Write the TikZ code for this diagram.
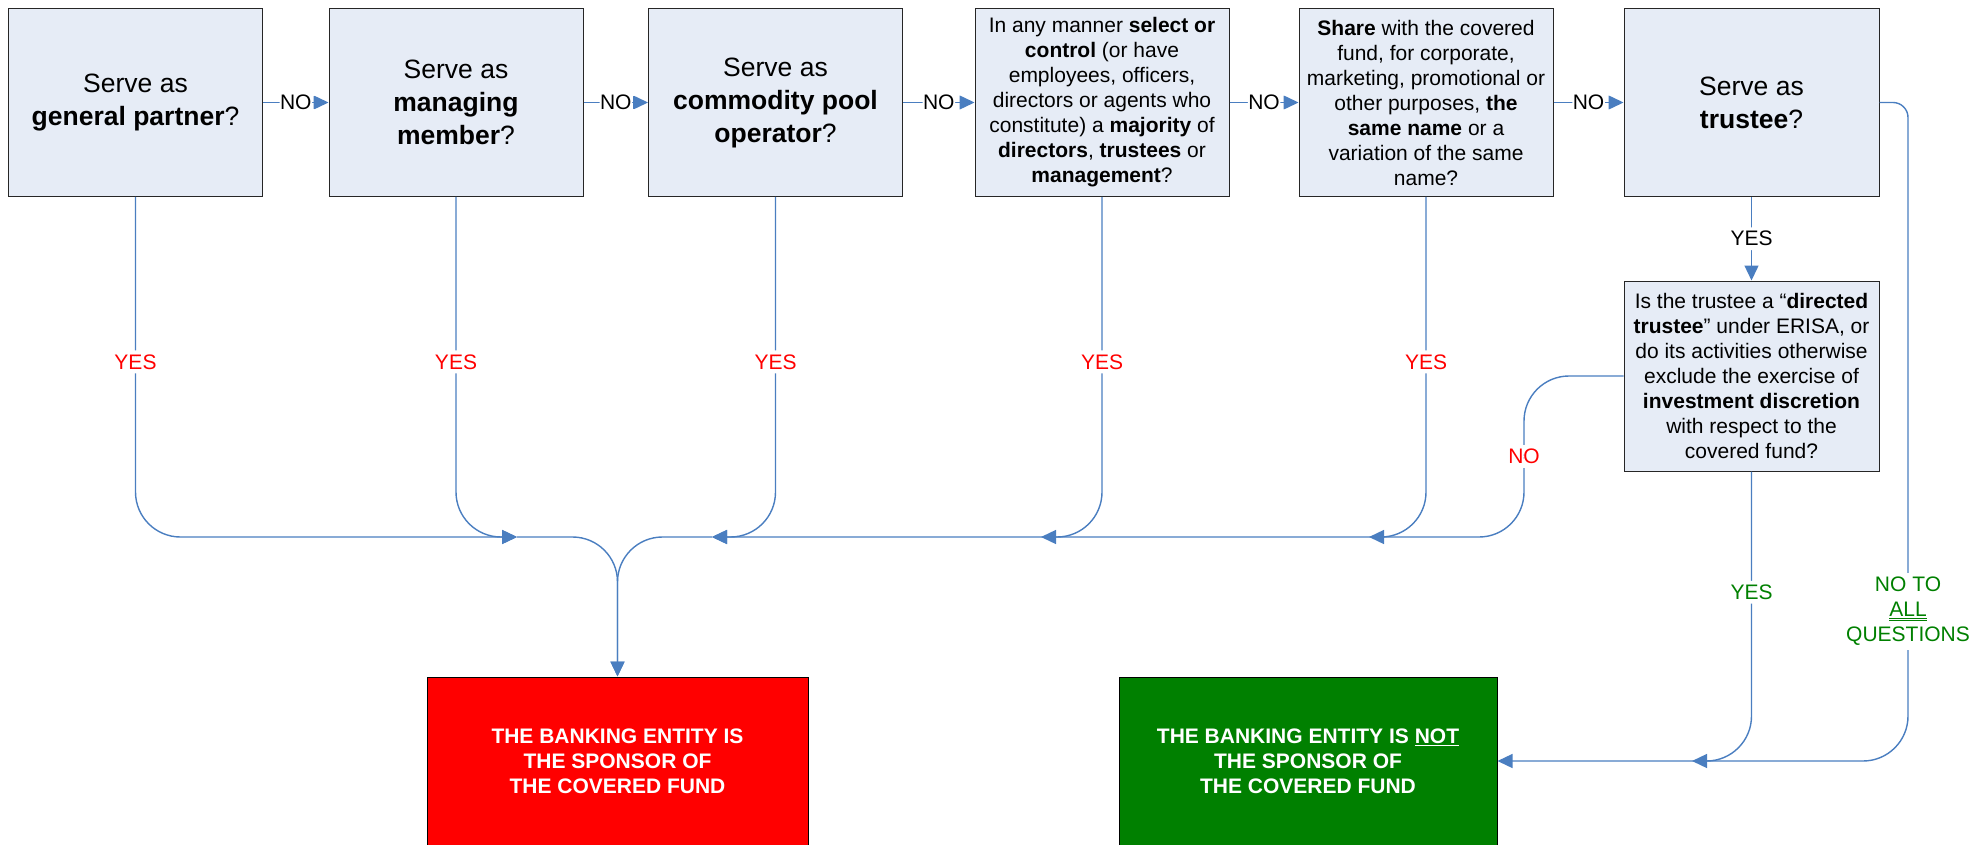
\documentclass[tikz,border=0pt]{standalone}
\usepackage{fontspec}
\setmainfont{Liberation Sans}
\usetikzlibrary{arrows.meta}
\definecolor{boxfill}{RGB}{230,236,246}
\definecolor{linkblue}{RGB}{74,126,192}
\definecolor{redbox}{RGB}{255,0,0}
\definecolor{greenbox}{RGB}{0,128,0}
\definecolor{yesgreen}{RGB}{0,128,0}
\begin{document}
\begin{tikzpicture}[x=1pt,y=-1pt,
  qbox/.style={draw=black!85, line width=1pt, fill=boxfill, align=center, inner sep=2pt},
  bigq/.style={qbox, minimum width=254pt, minimum height=188pt, font=\fontsize{26.5}{33}\selectfont},
  smallq/.style={qbox, minimum width=254pt, minimum height=188pt, font=\fontsize{21}{25}\selectfont},
  endbox/.style={draw=black, line width=1pt, align=center, text=white, font=\bfseries\fontsize{21}{25}\selectfont, minimum height=168pt},
  conn/.style={draw=linkblue, line width=1.4pt, rounded corners=45pt},
  arr/.style={-{Triangle[length=15pt,width=14pt]}},
  nolab/.style={fill=white, inner sep=0.5pt, text=black, font=\fontsize{21}{25}\selectfont},
  vlab/.style={fill=white, inner xsep=1pt, inner ysep=4pt, font=\fontsize{21}{25}\selectfont},
]
\useasboundingbox (0,0) rectangle (1983,845);

% question boxes
\node[bigq] (b1) at (135.5,102.5) {Serve as\\\textbf{general partner}?};
\node[bigq] (b2) at (456,102.5) {Serve as\\\textbf{managing}\\\textbf{member}?};
\node[bigq] (b3) at (775.5,102.5) {Serve as\\\textbf{commodity pool}\\\textbf{operator}?};
\node[smallq] (b4) at (1102,102.5) {In any manner \textbf{select or}\\\textbf{control} (or have\\employees, officers,\\directors or agents who\\constitute) a \textbf{majority} of\\\textbf{directors}, \textbf{trustees} or\\\textbf{management}?};
\node[smallq] (b5) at (1426,102.5) {\textbf{Share} with the covered\\fund, for corporate,\\marketing, promotional or\\other purposes, \textbf{the}\\\textbf{same name} or a\\variation of the same\\name?};
\node[bigq, minimum width=255pt] (b6) at (1751.5,102.5) {Serve as\\\textbf{trustee}?};
\node[smallq, minimum width=255pt, minimum height=190pt] (b7) at (1751.5,376) {Is the trustee a “\textbf{directed}\\\textbf{trustee}” under ERISA, or\\do its activities otherwise\\exclude the exercise of\\\textbf{investment discretion}\\with respect to the\\covered fund?};

% outcome boxes
\node[endbox, fill=redbox, minimum width=381pt] (red) at (617.5,761) {THE BANKING ENTITY IS\\THE SPONSOR OF\\THE COVERED FUND};
\node[endbox, fill=greenbox, minimum width=378pt] (green) at (1308,761) {THE BANKING ENTITY IS \underline{NOT}\\THE SPONSOR OF\\THE COVERED FUND};

% junction points
\coordinate (mL) at (517,537);
\coordinate (mR) at (712,537);
\coordinate (mC) at (617.5,537);
\coordinate (m4) at (1041,537);
\coordinate (m5) at (1369,537);
\coordinate (nx) at (1524,537);
\coordinate (gj) at (1692,761);
\coordinate (rx) at (1908,761);

% NO chain along the top
\draw[conn,arr] (b1.east) -- node[nolab] (n12) {NO} (b2.west);
\draw[conn,arr] (b2.east) -- node[nolab] (n23) {NO} (b3.west);
\draw[conn,arr] (b3.east) -- node[nolab] (n34) {NO} (b4.west);
\draw[conn,arr] (b4.east) -- node[nolab] (n45) {NO} (b5.west);
\draw[conn,arr] (b5.east) -- node[nolab] (n56) {NO} (b6.west);

% YES branches
\draw[conn,arr] (b1.south) -- node[vlab,pos=.485,text=red] (y1) {YES} (b1.south |- mL) -- (mL);
\draw[conn,arr] (b2.south) -- node[vlab,pos=.485,text=red] (y2) {YES} (b2.south |- mL) -- (mL);
\draw[conn,arr] (b3.south) -- node[vlab,pos=.485,text=red] (y3) {YES} (b3.south |- mR) -- (mR);
\draw[conn,arr] (b4.south) -- node[vlab,pos=.485,text=red] (y4) {YES} (b4.south |- m4) -- (m4);
\draw[conn,arr] (b5.south) -- node[vlab,pos=.485,text=red] (y5) {YES} (b5.south |- m5) -- (m5);
\draw[conn,arr] (b7.west) -- (b7.west -| nx) -- node[vlab,text=red] (n7) {NO} (nx) -- (mR);

% merge into red box
\draw[conn,arr] (mL) -- (mC) -- (red.north);
\draw[conn,arr] (mR) -- (mC) -- (red.north);

% trustee branch
\draw[conn,arr] (b6.south) -- node[vlab,text=black] (y6) {YES} (b7.north);
\draw[conn,arr] (b7.south) -- node[vlab,pos=.417,text=yesgreen] (y7) {YES} (b7.south |- gj) -- (gj);
\draw[conn,arr,rounded corners=15pt] (b6.east) -- (b6.east -| rx) [rounded corners=45pt] -- node[vlab,pos=.773,text=yesgreen,align=center] (nall) {NO TO\\\underline{\underline{ALL}}\\QUESTIONS} (rx) -- (green.east);
\end{tikzpicture}
\end{document}
